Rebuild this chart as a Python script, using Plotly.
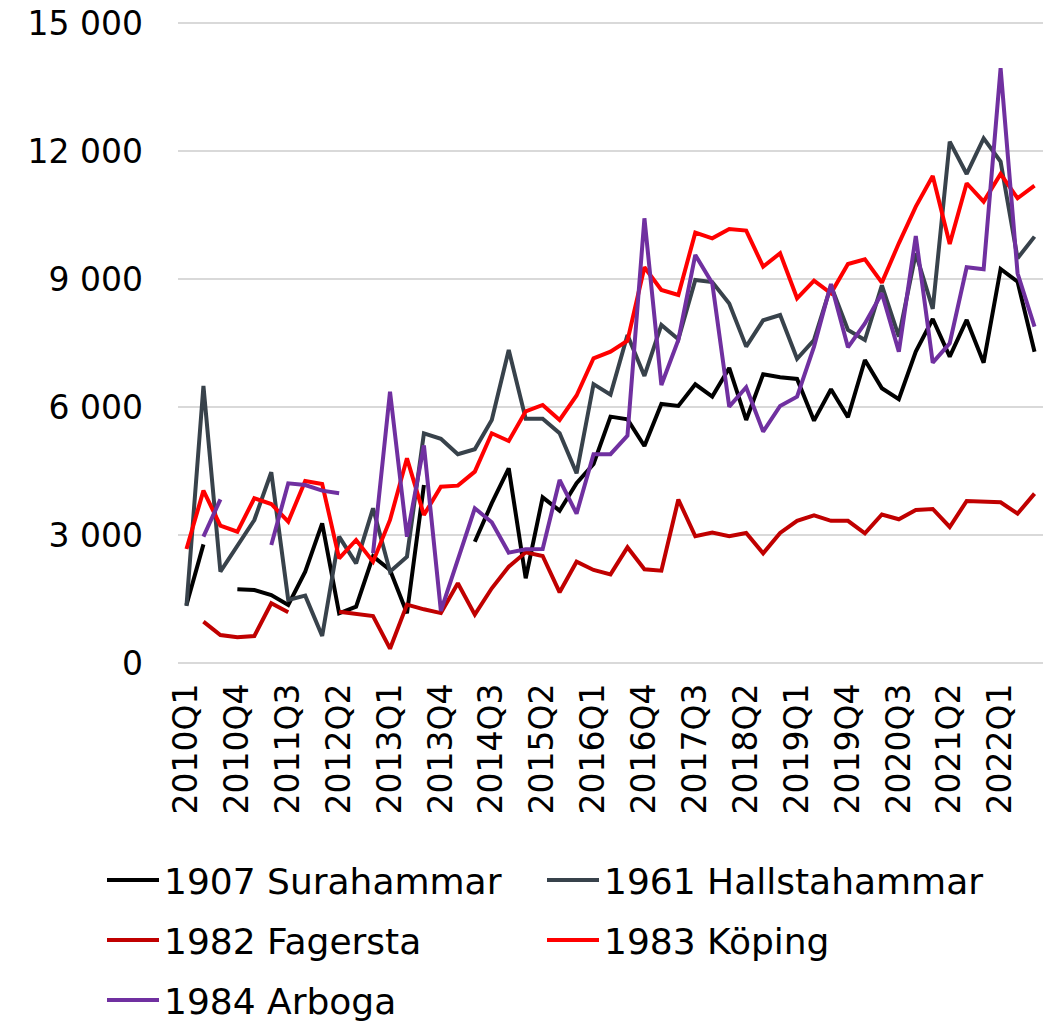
import plotly.graph_objects as go

QUARTERS = [f"{y}Q{q}" for y in range(2010, 2023) for q in range(1, 5)][:51]
TICK_LABELS = QUARTERS[::3]

SURAHAMMAR = [1360, 2780, None, 1727, 1711, 1594, 1360, 2141, 3274, 1164,
              1320, 2500, 2180, 1164, 4170, None, None, 2843, 3745, 4563,
              1985, 3883, 3570, 4212, 4664, 5774, 5711, 5086, 6071, 6024,
              6532, 6243, 6915, 5696, 6767, 6696, 6657, 5680, 6415, 5759,
              7102, 6439, 6181, 7297, 8063, 7180, 8040, 7039, 9235, 8938,
              7297]
HALLSTAHAMMAR = [1336, 6493, 2141, 2750, 3352, 4470, 1477, 1578, 633, 2961,
                 2336, 3626, 2141, 2493, 5384, 5255, 4892, 5009, 5696, 7337,
                 5727, 5727, 5384, 4446, 6536, 6290, 7688, 6727, 7923, 7587,
                 8978, 8927, 8423, 7415, 8032, 8157, 7130, 7571, 8840, 7805,
                 7571, 8850, 7649, 9600, 8300, 12219, 11462, 12297, 11751, 9486,
                 9993]
FAGERSTA = [None, 968, 656, 602, 633, 1399, 1188, None, None, 1203,
            1164, 1102, 335, 1368, 1258, 1170, 1868, 1133, 1751, 2258,
            2594, 2508, 1657, 2375, 2180, 2078, 2711, 2196, 2164, 3830,
            2970, 3055, 2970, 3048, 2571, 3048, 3332, 3458, 3332, 3332,
            3040, 3480, 3368, 3586, 3610, 3188, 3797, 3770, 3766, 3500,
            3970]
KOPING = [2672, 4039, 3219, 3078, 3860, 3727, 3313, 4266, 4196, 2453,
          2883, 2375, 3352, 4797, 3469, 4133, 4157, 4485, 5384, 5204,
          5900, 6048, 5696, 6270, 7142, 7297, 7555, 9275, 8743, 8626,
          10087, 9954, 10173, 10134, 9290, 9603, 8548, 8961, 8665, 9352,
          9462, 8915, 9837, 10696, 11415, 9822, 11244, 10813, 11462, 10892,
          11189]
ARBOGA = [None, 2961, 3836, None, None, 2766, 4212, 4172, 4039, 3977,
          None, 2571, 6360, 2961, 5098, 1220, 2414, 3626, 3300, 2586,
          2664, 2672, 4290, 3500, 4895, 4895, 5330, 10423, 6516, 7571,
          9563, 8900, 6008, 6462, 5422, 6024, 6243, 7415, 8884, 7399,
          7960, 8665, 7297, 10009, 7039, 7493, 9275, 9228, 13940, 9134,
          7883]

# (name, values, colour, legend row, legend column)
SERIES = [
    ("1907 Surahammar", SURAHAMMAR, "#000000", "legend", 0),
    ("1961 Hallstahammar", HALLSTAHAMMAR, "#38424B", "legend", 1),
    ("1982 Fagersta", FAGERSTA, "#C00000", "legend2", 0),
    ("1983 Köping", KOPING, "#FF0000", "legend2", 1),
    ("1984 Arboga", ARBOGA, "#7030A0", "legend3", 0),
]

FONT = "DejaVu Sans"
FS = 33
LFS = 36
W, H = 1043, 1015  # page body has an 8px margin
ML, MR, MT, MB = 170, 8, 13, 358
PW, PH = W - ML - MR, H - MT - MB
Y_PAD = 47  # keeps the 0 and 15 000 gridlines just inside the plot area
COL_WIDTHS = [373, 390]

fig = go.Figure()
for name, vals, color, leg, col in SERIES:
    fig.add_trace(go.Scatter(
        x=QUARTERS, y=vals, name=name, mode="lines",
        line=dict(color=color, width=4), connectgaps=False,
        legend=leg, legendwidth=COL_WIDTHS[col],
    ))

legend_common = dict(
    orientation="h", xref="paper", yref="paper",
    x=(94 - ML) / PW, xanchor="left", yanchor="middle",
    font=dict(family=FONT, size=LFS, color="#000000"),
    bgcolor="rgba(0,0,0,0)", itemwidth=52,
    traceorder="normal",
)

fig.update_layout(
    width=W, height=H,
    margin=dict(l=ML, r=MR, t=MT, b=MB, autoexpand=False),
    paper_bgcolor="white", plot_bgcolor="white",
    separators=", ",
    font=dict(family=FONT, size=FS, color="#000000"),
    legend=dict(legend_common, y=(MT + PH - 872) / PH),
    legend2=dict(legend_common, y=(MT + PH - 932) / PH),
    legend3=dict(legend_common, y=(MT + PH - 992) / PH),
    xaxis=dict(
        type="category", categoryorder="array", categoryarray=QUARTERS,
        range=[-0.5, len(QUARTERS) - 0.5], automargin=False,
        tickmode="array", tickvals=TICK_LABELS, ticktext=TICK_LABELS,
        tickangle=-90, showgrid=False, showline=False, zeroline=False,
        ticks="", ticklabelstandoff=11,
        tickfont=dict(family=FONT, size=FS, color="#000000"),
    ),
    yaxis=dict(
        range=[-Y_PAD, 15000 + Y_PAD], tickmode="linear", tick0=0, dtick=3000,
        tickformat=",d", showgrid=True, gridcolor="#D9D9D9", gridwidth=2,
        zeroline=False, showline=False, ticks="", ticklabelstandoff=34,
        ticklabeloverflow="allow", automargin=False,
        tickfont=dict(family=FONT, size=FS, color="#000000"),
    ),
)

fig.write_html("out.html")
